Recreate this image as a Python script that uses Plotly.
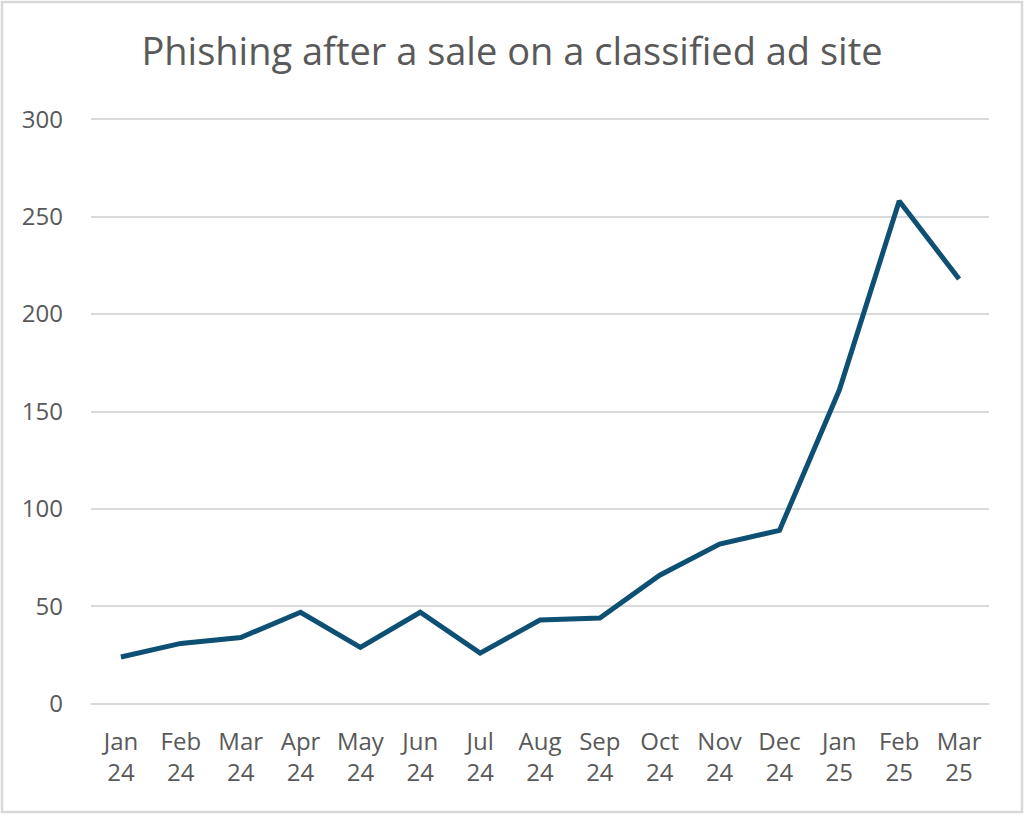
import plotly.graph_objects as go

months = ['Jan', 'Feb', 'Mar', 'Apr', 'May', 'Jun', 'Jul', 'Aug', 'Sep',
          'Oct', 'Nov', 'Dec', 'Jan', 'Feb', 'Mar']
years = ['24'] * 12 + ['25'] * 3
cases = [24, 31, 34, 47, 29, 47, 26, 43, 44, 66, 82, 89, 161, 258, 218]
y_ticks = [0, 50, 100, 150, 200, 250, 300]

labels = [f'{m}<br>{y}' for m, y in zip(months, years)]
cats = [f'{m} {y}' for m, y in zip(months, years)]

# plot area in pixels: x 91..989, y 118..705
W, H = 1024, 840
L, R, T, B = 91, 989, 118, 705
pw, ph = R - L, B - T

fig = go.Figure()

# plotly drops the gridlines at the range edges, so draw those two by hand
for yv in (y_ticks[0], y_ticks[-1]):
    fig.add_hline(y=yv, line=dict(color='#d9d9d9', width=1.5), layer='below')

fig.add_trace(go.Scatter(
    x=cats,
    y=cases,
    mode='lines',
    line=dict(color='#0e5073', width=5),
    showlegend=False))

# light grey frame round the whole chart
fig.add_shape(type='rect', xref='paper', yref='paper',
              x0=(2 - L) / pw, x1=(1022 - L) / pw,
              y0=(B - 812) / ph, y1=(B - 2) / ph,
              line=dict(color='#d9d9d9', width=2.5))

fig.update_layout(
    width=W, height=H,
    margin=dict(l=L, r=W - R, t=T, b=H - B),
    paper_bgcolor='white',
    plot_bgcolor='white',
    font=dict(family='Open Sans', color='#595959', size=24),
    title=dict(text='Phishing after a sale on a classified ad site',
               x=0.5, xanchor='center', y=1 - 52 / H, yanchor='middle',
               font=dict(family='Open Sans', size=38, color='#595959')),
)

fig.update_xaxes(
    tickmode='array', tickvals=cats, ticktext=labels,
    range=[-0.5, len(cats) - 0.5],
    showgrid=False, showline=False, zeroline=False, ticks='',
    ticklabelstandoff=20,
)
fig.update_yaxes(
    range=[-0.6, 300.6], tickvals=y_ticks,
    showgrid=True, gridcolor='#d9d9d9', gridwidth=1.5,
    zeroline=False, showline=False, ticks='',
    ticklabelstandoff=27,
)

fig.write_html('out.html', config={'displayModeBar': False},
               post_script="document.body.style.margin='0';")
